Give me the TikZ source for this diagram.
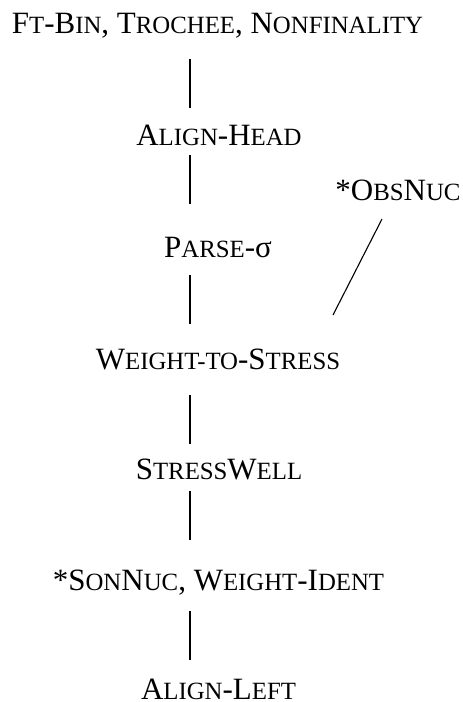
\documentclass[tikz,border=0pt]{standalone}
\usepackage{fontspec}
\setmainfont{Liberation Serif}
\newfontfamily\labelfont{Liberation Serif}
% hand-made small capitals: lower-case letters set as reduced capitals
\newcommand\lsc[1]{{\fontsize{24.8}{24.8}\selectfont #1}}
\tikzset{
  con/.style={text=black, font=\labelfont\fontsize{31}{31}\selectfont, inner sep=0pt, anchor=base},
  rank/.style={line width=1.3pt, line cap=butt}
}
\begin{document}
\begin{tikzpicture}[x=1pt,y=1pt]
\useasboundingbox (0,0) rectangle (463,-702);
% constraint labels
\node[con] (ft)  at (217.5,-33)  {F\lsc{T}-B\lsc{IN}, T\lsc{ROCHEE}, N\lsc{ONFINALITY}};
\node[con] (ah)  at (219,-145) {A\lsc{LIGN}-H\lsc{EAD}};
\node[con] (ps)  at (218,-257) {P\lsc{ARSE}-σ};
\node[con] (obs) at (398,-200) {*O\lsc{BS}N\lsc{UC}};
\node[con] (wts) at (218,-369) {W\lsc{EIGHT-TO}-S\lsc{TRESS}};
\node[con] (sw)  at (219,-479) {S\lsc{TRESS}W\lsc{ELL}};
\node[con] (sn)  at (218.5,-590) {*S\lsc{ON}N\lsc{UC}, W\lsc{EIGHT}-I\lsc{DENT}};
\node[con] (al)  at (218.5,-699) {A\lsc{LIGN}-L\lsc{EFT}};
% ranking lines
\draw[rank] ([shift={(-27.5,-26)}]ft.base) -- ([shift={(-29,37)}]ah.base);
\draw[rank] ([shift={(-29,-10)}]ah.base) -- ([shift={(-28,53)}]ps.base);
\draw[rank] ([shift={(-28,-18)}]ps.base) -- ([shift={(-28,45)}]wts.base);
\draw[rank] ([shift={(-28,-26)}]wts.base) -- ([shift={(-29,35)}]sw.base);
\draw[rank] ([shift={(-29,-12)}]sw.base) -- ([shift={(-28.5,50)}]sn.base);
\draw[rank] ([shift={(-28.5,-21)}]sn.base) -- ([shift={(-28.5,39)}]al.base);
\draw[line width=1.1pt] ([shift={(-16,-19)}]obs.base) -- ([shift={(115,54)}]wts.base);
\end{tikzpicture}
\end{document}
